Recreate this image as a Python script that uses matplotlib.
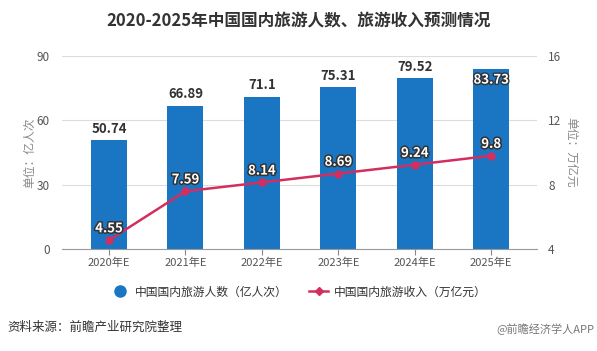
import matplotlib
matplotlib.use("Agg")
import matplotlib.pyplot as plt
import matplotlib.patheffects as pe
from matplotlib.lines import Line2D

plt.rcParams["font.family"] = ["Noto Sans CJK SC", "DejaVu Sans"]

# 数据
years = ["2020年E", "2021年E", "2022年E", "2023年E", "2024年E", "2025年E"]
visitors = [50.74, 66.89, 71.1, 75.31, 79.52, 83.73]      # 亿人次
revenue = [4.55, 7.59, 8.14, 8.69, 9.24, 9.8]            # 万亿元
left_ticks = [0, 30, 60, 90]
right_ticks = [4, 8, 12, 16]

bar_color = "#1a75c2"
line_color = "#d32f5e"
text_gray = "#555555"


def main():
    fig = plt.figure(figsize=(5.97, 3.51), dpi=100)
    ax = fig.add_axes([0.1039, 0.2906, 0.7956, 0.5499])
    x = list(range(len(years)))

    ax.bar(x, visitors, width=0.47, color=bar_color, zorder=2)
    ax.set_xlim(-0.615, 5.6)
    ax.set_ylim(0, 90)
    ax.set_yticks(left_ticks)
    ax.grid(axis="y", color="#dddddd", linewidth=0.8, zorder=0)
    ax.set_xticks(x)
    ax.set_xticklabels(years)
    ax.tick_params(axis="x", colors="#888888", labelcolor=text_gray,
                   labelsize=8, length=4, pad=2)
    ax.tick_params(axis="y", length=0, labelcolor=text_gray, labelsize=8.5, pad=9)
    for s in ["top", "right", "left"]:
        ax.spines[s].set_visible(False)
    ax.spines["bottom"].set_color("#999999")
    ax.set_ylabel("单位：亿人次", color="#888888", fontsize=8.5, labelpad=0)

    for i, v in enumerate(visitors):
        if i == len(visitors) - 1:
            ax.text(i, v - 1.5, f"{v}", ha="center", va="top", fontsize=9.5,
                    fontweight="bold", color="white", zorder=5,
                    path_effects=[pe.withStroke(linewidth=2, foreground="#333333")])
        else:
            ax.text(i, v + 2, f"{v}", ha="center", va="bottom", fontsize=9.5,
                    fontweight="bold", color="#333333", zorder=5)

    ax2 = ax.twinx()
    ax2.set_ylim(4, 16)
    ax2.set_yticks(right_ticks)
    ax2.plot(x, revenue, color=line_color, linewidth=1.8, marker="o",
             markersize=5, zorder=4)
    ax2.tick_params(axis="y", length=0, labelcolor=text_gray, labelsize=8.5, pad=8)
    for s in ["top", "right", "left", "bottom"]:
        ax2.spines[s].set_visible(False)
    ax2.set_ylabel("单位：万亿元", color="#888888", fontsize=8.5, rotation=270,
                   labelpad=12)
    for i, v in enumerate(revenue):
        ax2.text(i, v + 0.3, f"{v}", ha="center", va="bottom", fontsize=9.5,
                 fontweight="bold", color="white", zorder=6,
                 path_effects=[pe.withStroke(linewidth=2.2, foreground="#333333")])

    fig.text(0.5, 0.94, "2020-2025年中国国内旅游人数、旅游收入预测情况",
             ha="center", va="center", fontsize=12, fontweight="bold",
             color="#333333")

    # 图例
    handles = [
        Line2D([], [], linestyle="none", marker="o", markersize=8,
               color=bar_color),
        Line2D([], [], color=line_color, linewidth=1.8, marker="D",
               markersize=4),
    ]
    labels = ["中国国内旅游人数（亿人次）", "中国国内旅游收入（万亿元）"]
    fig.legend(handles, labels, loc="center", bbox_to_anchor=(0.5, 0.168),
               ncol=2, frameon=False, fontsize=8.5, handlelength=1.6,
               columnspacing=1.8, handletextpad=0.5, labelcolor="#333333")

    fig.text(0.012, 0.068, "资料来源：前瞻产业研究院整理", ha="left",
             va="center", fontsize=9, color="#333333")
    fig.text(0.995, 0.062, "@前瞻经济学人APP", ha="right", va="center",
             fontsize=8, color="#777777")

    fig.savefig("out.png", dpi=100)
    plt.close(fig)


if __name__ == "__main__":
    main()
